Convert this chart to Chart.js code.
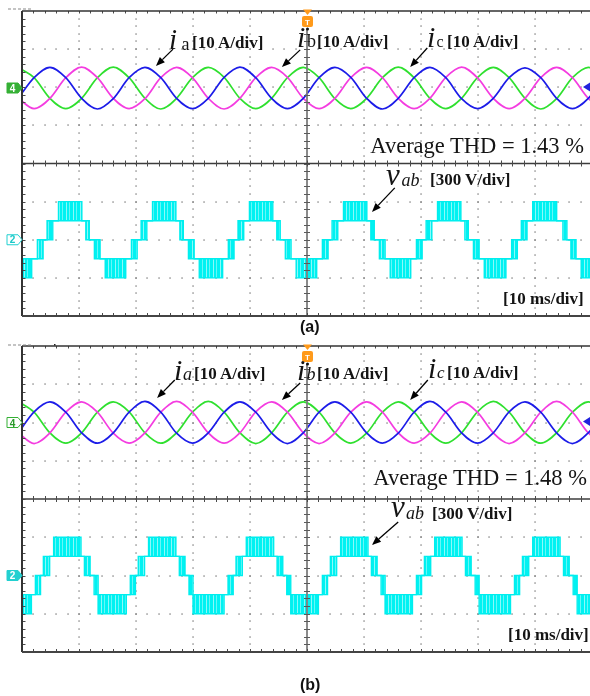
<!DOCTYPE html>
<html><head><meta charset="utf-8">
<script src="https://cdn.jsdelivr.net/npm/chart.js@4.4.1/dist/chart.umd.min.js"></script>
<style>
html,body{margin:0;padding:0;background:#fff;width:590px;height:696px;overflow:hidden;position:relative}
canvas{position:absolute;left:0}
#ca{top:0}
#cb{top:335px}
svg{position:absolute;left:0;top:0}
.s{font-family:'Liberation Serif','Times New Roman',serif;fill:#141414}
.b{font-weight:bold}
.it{font-style:italic}
.sans{font-family:'Liberation Sans',Arial,sans-serif;font-weight:bold}
</style></head><body>
<canvas id="ca" width="600" height="330"></canvas>
<canvas id="cb" width="600" height="330"></canvas>
<svg width="590" height="696" viewBox="0 0 590 696" xmlns="http://www.w3.org/2000/svg">
 <text class="s it" x="169" y="49" font-size="29">i</text>
 <text class="s" x="181.5" y="49.5" font-size="18">a</text>
 <text class="s b" x="192" y="48" font-size="17">[10 A/div]</text>
 <text class="s it" x="297" y="46.5" font-size="30">i</text>
 <text class="s" x="307" y="47" font-size="18">b</text>
 <text class="s b" x="317" y="46.5" font-size="17">[10 A/div]</text>
 <text class="s it" x="427" y="46.5" font-size="30">i</text>
 <text class="s" x="436.5" y="47" font-size="16">c</text>
 <text class="s b" x="447" y="46.5" font-size="17">[10 A/div]</text>
 <text class="s" x="584" y="153" font-size="22.5" text-anchor="end">Average THD = 1.43 %</text>
 <text class="s it" x="386" y="185" font-size="31">v</text>
 <text class="s it" x="401.5" y="186" font-size="18">ab</text>
 <text class="s b" x="430" y="185" font-size="17">[300 V/div]</text>
 <text class="s b" x="503" y="304" font-size="17">[10 ms/div]</text>

 <text class="s it" x="174" y="380" font-size="30">i</text>
 <text class="s it" x="183" y="380" font-size="18">a</text>
 <text class="s b" x="194" y="379" font-size="17">[10 A/div]</text>
 <text class="s it" x="297" y="380" font-size="30">i</text>
 <text class="s it" x="306.5" y="380" font-size="18">b</text>
 <text class="s b" x="317" y="379" font-size="17">[10 A/div]</text>
 <text class="s it" x="428" y="378" font-size="30">i</text>
 <text class="s it" x="437" y="378" font-size="17">c</text>
 <text class="s b" x="447" y="378" font-size="17">[10 A/div]</text>
 <text class="s" x="587" y="485" font-size="22.5" text-anchor="end">Average THD = 1.48 %</text>
 <text class="s it" x="391" y="517" font-size="31">v</text>
 <text class="s it" x="406" y="519" font-size="18">ab</text>
 <text class="s b" x="432" y="519" font-size="17">[300 V/div]</text>
 <text class="s b" x="508" y="640" font-size="17">[10 ms/div]</text>

 <text class="sans" x="300" y="332" font-size="16" fill="#111">(a)</text>
 <text class="sans" x="300" y="690" font-size="16" fill="#111">(b)</text>

 <text class="sans" x="12.5" y="91.6" font-size="10" text-anchor="middle" fill="#fff">4</text>
 <text class="sans" x="12.5" y="243.4" font-size="10" text-anchor="middle" fill="#19c8c8">2</text>
 <text class="sans" x="12.5" y="427" font-size="10" text-anchor="middle" fill="#2a9a2a">4</text>
 <text class="sans" x="12.5" y="579.1" font-size="10" text-anchor="middle" fill="#fff">2</text>
 <text class="sans" x="307.5" y="24.8" font-size="8" text-anchor="middle" fill="#fff">T</text>
 <text class="sans" x="307.5" y="359.8" font-size="8" text-anchor="middle" fill="#fff">T</text>
</svg>
<script>
// ---------- axis ticks (ms, divisions) ----------
const xTicks = [0, 10, 20, 30, 40, 50, 60, 70, 80, 90, 100];
const yTicks = [-4, -3, -2, -1, 0, 1, 2, 3, 4];

// ---------- phase currents (A), sampled times in ms ----------
const iTimes = [-0.66, 2.12, 4.90, 7.68, 10.46, 13.23, 16.01, 18.79, 21.57, 24.35, 27.12, 29.90, 32.68, 35.46, 38.23, 41.01, 43.79, 46.57, 49.35, 52.12, 54.90, 57.68, 60.46, 63.24, 66.01, 68.79, 71.57, 74.35, 77.12, 79.90, 82.68, 85.46, 88.24, 91.01, 93.79, 96.57, 99.35, 102.12];

const iaA = [-2.7, 2.7, 5.4, 2.7, -2.7, -5.5, -2.8, 2.7, 5.4, 2.7, -2.7, -5.4, -2.7, 2.8, 5.5, 2.7, -2.7, -5.4, -2.7, 2.7, 5.4, 2.8, -2.7, -5.5, -2.7, 2.7, 5.4, 2.7, -2.8, -5.4, -2.7, 2.7, 5.3, 2.7, -2.7, -5.4, -2.7, 2.7];
const ibA = [-2.7, -5.4, -2.7, 2.7, 5.5, 2.7, -2.7, -5.4, -2.8, 2.7, 5.4, 2.7, -2.7, -5.5, -2.7, 2.7, 5.4, 2.8, -2.7, -5.4, -2.7, 2.7, 5.4, 2.7, -2.7, -5.4, -2.7, 2.8, 5.5, 2.7, -2.7, -5.4, -2.7, 2.7, 5.4, 2.7, -2.7, -5.4];
const icA = [5.4, 2.7, -2.7, -5.4, -2.7, 2.7, 5.5, 2.7, -2.7, -5.5, -2.7, 2.7, 5.4, 2.8, -2.7, -5.4, -2.7, 2.7, 5.4, 2.7, -2.8, -5.4, -2.7, 2.7, 5.5, 2.7, -2.7, -5.4, -2.7, 2.7, 5.4, 2.7, -2.7, -5.5, -2.8, 2.7, 5.4, 2.7];

const iaB = [-2.7, 2.8, 5.4, 2.7, -2.7, -5.4, -2.7, 2.7, 5.5, 2.7, -2.8, -5.4, -2.7, 2.7, 5.4, 2.7, -2.7, -5.5, -2.7, 2.7, 5.4, 2.7, -2.7, -5.4, -2.8, 2.7, 5.5, 2.7, -2.7, -5.4, -2.7, 2.8, 5.4, 2.7, -2.7, -5.5, -2.7, 2.7];
const ibB = [-2.7, -5.5, -2.7, 2.7, 5.4, 2.7, -2.8, -5.4, -2.7, 2.7, 5.5, 2.7, -2.7, -5.4, -2.7, 2.8, 5.4, 2.7, -2.7, -5.5, -2.7, 2.7, 5.4, 2.7, -2.7, -5.4, -2.8, 2.7, 5.4, 2.7, -2.7, -5.5, -2.7, 2.7, 5.5, 2.7, -2.7, -5.4];
const icB = [5.5, 2.7, -2.7, -5.4, -2.7, 2.7, 5.4, 2.8, -2.7, -5.4, -2.7, 2.7, 5.5, 2.7, -2.7, -5.5, -2.7, 2.7, 5.4, 2.7, -2.7, -5.4, -2.8, 2.7, 5.4, 2.7, -2.7, -5.4, -2.7, 2.8, 5.5, 2.7, -2.7, -5.4, -2.7, 2.7, 5.4, 2.7];

// ---------- line voltage v_ab (V): switching instants (ms) with upper / lower PWM level ----------
const vabTimesA = [-2, 1.7, 2.7, 3.7, 4.4, 5.4, 6.4, 10.5, 11.2, 11.8, 12.7, 13.7, 14.6, 18.2, 19.2, 20.2, 20.9, 21.9, 22.9, 27.0, 27.7, 28.3, 29.2, 30.2, 31.1, 35.2, 36.2, 37.2, 37.9, 38.9, 39.9, 44.0, 44.7, 45.3, 46.2, 47.2, 48.1, 51.7, 52.7, 53.7, 54.4, 55.4, 56.4, 60.5, 61.2, 61.8, 62.7, 63.7, 64.6, 68.2, 69.2, 70.2, 70.9, 71.9, 72.9, 77.0, 77.7, 78.3, 79.2, 80.2, 81.1, 84.9, 85.9, 86.9, 87.6, 88.6, 89.6, 93.8, 94.9, 95.6, 96.3, 97.2, 98.1, 102];
const vabUpperA = [-150,
  -150, 0, 0, 150, 150, 300, 150, 150, 0, 0, -150, -150,
  -150, 0, 0, 150, 150, 300, 150, 150, 0, 0, -150, -150,
  -150, 0, 0, 150, 150, 300, 150, 150, 0, 0, -150, -150,
  -150, 0, 0, 150, 150, 300, 150, 150, 0, 0, -150, -150,
  -150, 0, 0, 150, 150, 300, 150, 150, 0, 0, -150, -150,
  -150, 0, 0, 150, 150, 300, 150, 150, 0, 0, -150, -150,
  -150];
const vabLowerA = [-300,
  -150, -150, 0, 0, 150, 150, 150, 0, 0, -150, -150, -300,
  -150, -150, 0, 0, 150, 150, 150, 0, 0, -150, -150, -300,
  -150, -150, 0, 0, 150, 150, 150, 0, 0, -150, -150, -300,
  -150, -150, 0, 0, 150, 150, 150, 0, 0, -150, -150, -300,
  -150, -150, 0, 0, 150, 150, 150, 0, 0, -150, -150, -300,
  -150, -150, 0, 0, 150, 150, 150, 0, 0, -150, -150, -300,
  -300];

const vabTimesB = [-2, 1.65, 2.35, 3.25, 3.75, 4.85, 5.55, 10.35, 10.95, 11.95, 12.65, 13.35, 18.3, 19.0, 19.9, 20.4, 21.5, 22.2, 27.0, 27.6, 28.6, 29.3, 30.0, 35.45, 36.15, 37.05, 37.55, 38.65, 39.35, 44.15, 44.75, 45.75, 46.45, 47.15, 52.0, 52.7, 53.6, 54.1, 55.2, 55.9, 60.7, 61.3, 62.3, 63.0, 63.7, 68.5, 69.2, 70.1, 70.6, 71.7, 72.4, 77.2, 77.8, 78.8, 79.5, 80.2, 85.7, 86.4, 87.3, 87.8, 88.9, 89.6, 94.4, 95.0, 96.0, 96.7, 97.4, 102];
const vabUpperB = [-150,
  -150, 0, 0, 150, 150, 300, 150, 150, 0, 0, -150,
  -150, 0, 0, 150, 150, 300, 150, 150, 0, 0, -150,
  -150, 0, 0, 150, 150, 300, 150, 150, 0, 0, -150,
  -150, 0, 0, 150, 150, 300, 150, 150, 0, 0, -150,
  -150, 0, 0, 150, 150, 300, 150, 150, 0, 0, -150,
  -150, 0, 0, 150, 150, 300, 150, 150, 0, 0, -150,
  -150];
const vabLowerB = [-300,
  -150, -150, 0, 0, 150, 150, 150, 0, 0, -150, -300,
  -150, -150, 0, 0, 150, 150, 150, 0, 0, -150, -300,
  -150, -150, 0, 0, 150, 150, 150, 0, 0, -150, -300,
  -150, -150, 0, 0, 150, 150, 150, 0, 0, -150, -300,
  -150, -150, 0, 0, 150, 150, 150, 0, 0, -150, -300,
  -150, -150, 0, 0, 150, 150, 150, 0, 0, -150, -300,
  -300];

// ---------- scope settings ----------
const I_PER_DIV = 10;    // A/div
const V_PER_DIV = 300;   // V/div
const V_OFFSET = -2;     // channel 2 ground (div)

const COL = {ia: '#1c1ce8', ib: '#f43ce0', ic: '#2fe02f', vab: '#00eeee'};

function chatterPattern() {
  const c = document.createElement('canvas');
  c.width = 7; c.height = 4;
  const g = c.getContext('2d');
  g.fillStyle = '#00f2f2'; g.fillRect(0, 0, 7, 4);
  g.fillStyle = 'rgba(255,255,255,0.55)'; g.fillRect(3, 0, 1, 4);
  g.fillStyle = 'rgba(170,250,250,0.6)'; g.fillRect(6, 0, 1, 4);
  return g.createPattern(c, 'repeat');
}

function pts(times, vals, off, scale) {
  return vals.map((v, k) => ({x: times[k], y: off + v / scale}));
}

function arrow(ctx, x0, y0, x1, y1) {
  const ang = Math.atan2(y1 - y0, x1 - x0), L = 9, W = 3.6;
  const bx = x1 - L * Math.cos(ang), by = y1 - L * Math.sin(ang);
  ctx.strokeStyle = '#000'; ctx.lineWidth = 1.3;
  ctx.beginPath(); ctx.moveTo(x0, y0); ctx.lineTo(bx, by); ctx.stroke();
  ctx.fillStyle = '#000';
  ctx.beginPath(); ctx.moveTo(x1, y1);
  ctx.lineTo(bx - W * Math.sin(ang), by + W * Math.cos(ang));
  ctx.lineTo(bx + W * Math.sin(ang), by - W * Math.cos(ang));
  ctx.closePath(); ctx.fill();
}

const scopePlugin = {
  id: 'scope',
  beforeDatasetsDraw(chart) {
    const {ctx, scales: {x, y}} = chart;
    ctx.save();
    ctx.fillStyle = '#767676';
    xTicks.forEach(t => {
      if (t <= 0 || t === 50 || t >= 100) return;
      const X = Math.round(x.getPixelForValue(t));
      for (let k = 1; k < 40; k++) {
        const Y = Math.round(y.getPixelForValue(-4 + k * 0.2));
        ctx.fillRect(X - 0.6, Y - 0.6, 1.3, 1.3);
      }
    });
    yTicks.forEach(d => {
      if (d === 0 || Math.abs(d) === 4) return;
      const Y = Math.round(y.getPixelForValue(d));
      for (let k = 1; k < 50; k++) {
        const X = Math.round(x.getPixelForValue(k * 2));
        ctx.fillRect(X - 0.6, Y - 0.6, 1.3, 1.3);
      }
    });
    ctx.restore();
  },
  afterDatasetsDraw(chart, args, opts) {
    const {ctx, chartArea: a, scales: {x, y}} = chart;
    ctx.save();
    const XC = x.getPixelForValue(50);
    ctx.strokeStyle = 'rgba(125,125,125,0.9)'; ctx.lineWidth = 2;
    ctx.beginPath(); ctx.moveTo(XC, a.top + 18); ctx.lineTo(XC, a.bottom); ctx.stroke();
    ctx.strokeStyle = '#5a5a5a'; ctx.lineWidth = 1;
    for (let k = 1; k < 40; k++) {
      const Y = Math.round(y.getPixelForValue(-4 + k * 0.2)) + 0.5;
      ctx.beginPath(); ctx.moveTo(XC - 3, Y); ctx.lineTo(XC + 3, Y); ctx.stroke();
    }
    const YC = y.getPixelForValue(0);
    ctx.strokeStyle = '#3c3c3c'; ctx.lineWidth = 1.6;
    ctx.beginPath(); ctx.moveTo(a.left, YC); ctx.lineTo(a.right, YC); ctx.stroke();
    ctx.strokeStyle = '#4a4a4a'; ctx.lineWidth = 1;
    for (let k = 1; k < 50; k++) {
      const X = Math.round(x.getPixelForValue(k * 2)) + 0.5;
      ctx.beginPath(); ctx.moveTo(X, YC - 3); ctx.lineTo(X, YC + 3); ctx.stroke();
      ctx.beginPath(); ctx.moveTo(X, a.bottom); ctx.lineTo(X, a.bottom - 3); ctx.stroke();
      ctx.beginPath(); ctx.moveTo(X, a.top); ctx.lineTo(X, a.top + 2.5); ctx.stroke();
    }
    for (let k = 1; k < 40; k++) {
      const Y = Math.round(y.getPixelForValue(-4 + k * 0.2)) + 0.5;
      ctx.beginPath(); ctx.moveTo(a.left, Y); ctx.lineTo(a.left + 3.5, Y); ctx.stroke();
    }
    ctx.strokeStyle = '#333'; ctx.lineWidth = 1.5;
    ctx.beginPath(); ctx.moveTo(a.left, a.top); ctx.lineTo(a.right, a.top); ctx.stroke();
    ctx.lineWidth = 2;
    ctx.beginPath(); ctx.moveTo(a.left, a.top); ctx.lineTo(a.left, a.bottom); ctx.stroke();
    ctx.strokeStyle = '#444';
    ctx.beginPath(); ctx.moveTo(a.left, a.bottom); ctx.lineTo(a.right, a.bottom); ctx.stroke();
    opts.arrows.forEach(r => arrow(ctx, x.getPixelForValue(r[0]), y.getPixelForValue(r[1]), x.getPixelForValue(r[2]), y.getPixelForValue(r[3])));
    ctx.restore();
  },
  afterDraw(chart, args, opts) {
    const {ctx, chartArea: a, scales: {x, y}} = chart;
    ctx.save();
    const mark = (cy, color, filled) => {
      const cx = a.left, l = cx - 15, r = cx - 4;
      ctx.beginPath(); ctx.moveTo(l, cy - 5); ctx.lineTo(r, cy - 5); ctx.lineTo(cx, cy); ctx.lineTo(r, cy + 5); ctx.lineTo(l, cy + 5); ctx.closePath();
      ctx.fillStyle = filled ? color : '#fff'; ctx.fill();
      ctx.strokeStyle = color; ctx.lineWidth = 1; ctx.stroke();
    };
    mark(y.getPixelForValue(opts.ch4), '#35b035', opts.ch4Filled);
    mark(y.getPixelForValue(V_OFFSET), '#22d0d0', opts.ch2Filled);
    const ry = y.getPixelForValue(opts.ch4) - 1;
    ctx.fillStyle = '#2222dd';
    ctx.beginPath(); ctx.moveTo(583, ry); ctx.lineTo(590, ry - 4.5); ctx.lineTo(590, ry + 4.5); ctx.closePath(); ctx.fill();
    const XC = x.getPixelForValue(50) + 0.5;
    ctx.fillStyle = '#ff9a1a';
    ctx.beginPath(); ctx.moveTo(XC - 4.5, a.top - 1.5); ctx.lineTo(XC + 4.5, a.top - 1.5); ctx.lineTo(XC, a.top + 4); ctx.closePath(); ctx.fill();
    ctx.beginPath(); ctx.roundRect(XC - 5.5, a.top + 5, 11, 11, 2); ctx.fill();
    ctx.fillStyle = '#111';
    ctx.beginPath(); ctx.arc(XC, a.top + 18, 1.5, 0, Math.PI * 2); ctx.fill();
    ctx.strokeStyle = '#8a8a8a'; ctx.lineWidth = 1.2; ctx.setLineDash([3, 2]);
    ctx.beginPath(); ctx.moveTo(8, a.top - opts.dashLift); ctx.lineTo(32, a.top - opts.dashLift); ctx.stroke();
    ctx.setLineDash([]);
    if (opts.dot) { ctx.fillStyle = '#222'; ctx.fillRect(54, a.top - 2, 1.5, 1.5); }
    ctx.restore();
  }
};

function makeChart(id, ia, ib, ic, vt, vu, vl, ch4, pad, sopts) {
  const pattern = chatterPattern();
  const curr = (vals, color) => ({
    data: pts(iTimes, vals, ch4, I_PER_DIV), borderColor: color, borderWidth: 1.7,
    cubicInterpolationMode: 'monotone', pointRadius: 0, fill: false
  });
  return new Chart(document.getElementById(id), {
    type: 'line',
    data: {datasets: [
      curr(ia, COL.ia), curr(ib, COL.ib), curr(ic, COL.ic),
      {data: pts(vt, vu, V_OFFSET, V_PER_DIV), borderColor: COL.vab, borderWidth: 1.4, stepped: true, pointRadius: 0, fill: false},
      {data: pts(vt, vl, V_OFFSET, V_PER_DIV), borderColor: COL.vab, borderWidth: 1.4, stepped: true, pointRadius: 0, fill: '-1', backgroundColor: pattern}
    ]},
    options: {
      animation: false, responsive: false, events: [],
      layout: {padding: pad},
      plugins: {legend: {display: false}, tooltip: {enabled: false}, scope: sopts},
      scales: {
        x: {type: 'linear', min: xTicks[0], max: xTicks[xTicks.length - 1], display: false},
        y: {type: 'linear', min: yTicks[0], max: yTicks[yTicks.length - 1], display: false}
      }
    },
    plugins: [scopePlugin]
  });
}

makeChart('ca', iaA, ibA, icA, vabTimesA, vabUpperA, vabLowerA, 1.98,
  {left: 22, top: 11, right: 8, bottom: 14},
  {ch4: 1.98, ch4Filled: true, ch2Filled: false, dashLift: 2, dot: false,
   arrows: [[26.5, 3.0, 23.5, 2.56], [48.8, 2.98, 45.6, 2.53], [71.1, 3.03, 68.1, 2.53], [65.4, -0.64, 61.4, -1.27]]});

makeChart('cb', iaB, ibB, icB, vabTimesB, vabUpperB, vabLowerB, 2.0,
  {left: 22, top: 11, right: 8, bottom: 13},
  {ch4: 2.0, ch4Filled: false, ch2Filled: true, dashLift: 1, dot: true,
   arrows: [[26.8, 3.11, 23.7, 2.64], [48.8, 3.03, 45.6, 2.59], [71.2, 3.11, 68.1, 2.59], [66.0, -0.60, 61.4, -1.20]]});
</script>
</body></html>
